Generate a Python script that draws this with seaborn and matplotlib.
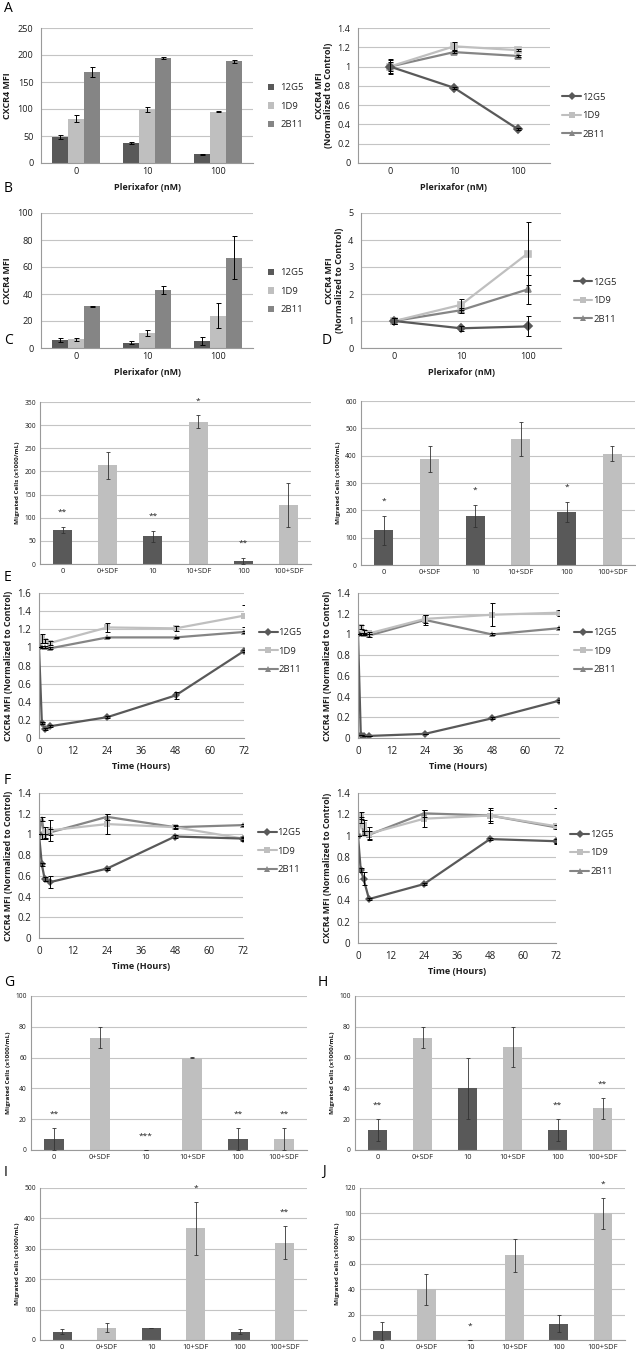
import numpy as np
import pandas as pd
import matplotlib
matplotlib.use('Agg')
import matplotlib.pyplot as plt
import seaborn as sns
from matplotlib.lines import Line2D
from matplotlib.patches import Patch

sns.set_theme(style='white')
plt.rcParams['font.family'] = ['Open Sans', 'DejaVu Sans']

# ---------------- data ----------------
ANTIBODIES = ['12G5', '1D9', '2B11']
DOSES = ['0', '10', '100']
HOURS = [0, 1, 2, 4, 24, 48, 72]
MIG_CATS = ['0', '0+SDF', '10', '10+SDF', '100', '100+SDF']

# Panel A
a_mfi = {'12G5': [48, 37, 16], '1D9': [82, 99, 95], '2B11': [168, 194, 188]}
a_mfi_err = {'12G5': [4, 1, 1], '1D9': [6, 4, 1], '2B11': [9, 1.5, 2]}
a_norm = {'12G5': [1.0, 0.78, 0.35], '1D9': [1.0, 1.21, 1.17], '2B11': [1.0, 1.15, 1.11]}
a_norm_err = {'12G5': [0.08, 0.01, 0.01], '1D9': [0.07, 0.04, 0.01], '2B11': [0.05, 0.01, 0.01]}

# Panel B
b_mfi = {'12G5': [6, 4, 5], '1D9': [6.5, 11, 24], '2B11': [31, 43, 67]}
b_mfi_err = {'12G5': [1.5, 1, 3], '1D9': [1, 2, 9], '2B11': [0.3, 3, 16]}
b_norm = {'12G5': [1.0, 0.73, 0.80], '1D9': [1.0, 1.60, 3.50], '2B11': [1.0, 1.40, 2.17]}
b_norm_err = {'12G5': [0.12, 0.1, 0.37], '1D9': [0.1, 0.2, 1.17], '2B11': [0.1, 0.1, 0.53]}

# Panel C / D (migration)
c_mig = [73, 213, 60, 307, 6, 127]
c_err = [7, 30, 12, 14, 7, 48]
c_stars = ['**', '', '**', '*', '**', '']
d_mig = [127, 387, 180, 460, 193, 407]
d_err = [52, 48, 40, 62, 37, 27]
d_stars = ['*', '', '*', '', '*', '']

# Panel E (time course)
e1 = {'12G5': [1.0, 0.17, 0.10, 0.13, 0.23, 0.47, 0.96],
      '1D9': [1.0, 1.10, 1.07, 1.05, 1.22, 1.21, 1.35],
      '2B11': [1.0, 1.0, 1.0, 0.99, 1.11, 1.11, 1.17]}
e1_err = {'12G5': [0, 0.01, 0.01, 0.01, 0.01, 0.04, 0.01],
          '1D9': [0, 0.05, 0.02, 0.02, 0.05, 0.03, 0.12],
          '2B11': [0, 0.01, 0.01, 0.01, 0.01, 0.01, 0.01]}
e2 = {'12G5': [1.0, 0.03, 0.02, 0.02, 0.04, 0.19, 0.36],
      '1D9': [1.0, 1.07, 1.02, 1.01, 1.15, 1.19, 1.21],
      '2B11': [1.0, 1.0, 1.0, 0.99, 1.14, 1.0, 1.06]}
e2_err = {'12G5': [0, 0, 0, 0, 0, 0.01, 0.01],
          '1D9': [0, 0.02, 0.02, 0.01, 0.04, 0.11, 0.03],
          '2B11': [0, 0.01, 0.01, 0.01, 0.05, 0.01, 0.01]}

# Panel F (time course)
f1 = {'12G5': [1.0, 0.71, 0.57, 0.54, 0.67, 0.98, 0.96],
      '1D9': [1.0, 0.98, 1.02, 1.04, 1.10, 1.07, 0.96],
      '2B11': [1.0, 1.15, 0.98, 1.02, 1.17, 1.07, 1.09]}
f1_err = {'12G5': [0, 0.01, 0.02, 0.06, 0.01, 0.01, 0.01],
          '1D9': [0, 0.02, 0.05, 0.1, 0.1, 0.02, 0.02],
          '2B11': [0, 0.02, 0.02, 0.03, 0.03, 0.01, 0.01]}
f2 = {'12G5': [1.0, 0.68, 0.60, 0.41, 0.55, 0.97, 0.95],
      '1D9': [1.0, 1.19, 1.10, 1.02, 1.16, 1.19, 1.09],
      '2B11': [1.0, 1.15, 1.03, 1.01, 1.21, 1.19, 1.08]}
f2_err = {'12G5': [0, 0.02, 0.06, 0.01, 0.01, 0.01, 0.02],
          '1D9': [0, 0.03, 0.05, 0.06, 0.08, 0.07, 0.17],
          '2B11': [0, 0.03, 0.02, 0.04, 0.03, 0.05, 0.02]}

# Panels G-J (migration)
g_mig = [7, 73, 0, 60, 7, 7]
g_err = [7, 7, 0, 0.3, 7, 7]
g_stars = ['**', '', '***', '', '**', '**']
h_mig = [13, 73, 40, 67, 13, 27]
h_err = [7, 7, 20, 13, 7, 7]
h_stars = ['**', '', '', '', '**', '**']
i_mig = [27, 40, 40, 367, 27, 320]
i_err = [8, 15, 1, 88, 8, 55]
i_stars = ['', '', '', '*', '', '**']
j_mig = [7, 40, 0, 67, 13, 100]
j_err = [7, 12, 0, 13, 7, 12]
j_stars = ['', '', '*', '', '', '*']

# ---------------- style ----------------
COL = {'12G5': '#595959', '1D9': '#bfbfbf', '2B11': '#858585'}
MARK = {'12G5': 'D', '1D9': 's', '2B11': '^'}
MIG_COLORS = ['#595959', '#bfbfbf'] * 3
GRID = '#c4c4c4'
AXC = '#9a9a9a'
TXT = '#1e1e1e'

W, H = 636, 1369
fig = plt.figure(figsize=(W / 100, H / 100), dpi=100)
fig.patch.set_facecolor('white')


def add_ax(x0, y0, x1, y1):
    return fig.add_axes([x0 / W, 1 - y1 / H, (x1 - x0) / W, (y1 - y0) / H])


def fmt_num(v):
    return f'{v:g}'


def style_ax(ax, ymax, step, fs=6.6):
    ax.set_ylim(0, ymax)
    ticks = np.arange(0, ymax + step / 2, step)
    ax.set_yticks(ticks)
    ax.set_yticklabels([fmt_num(round(t, 3)) for t in ticks])
    ax.yaxis.grid(True, color=GRID, lw=0.8)
    ax.xaxis.grid(False)
    ax.set_axisbelow(True)
    for s in ['top', 'right']:
        ax.spines[s].set_visible(False)
    for s in ['left', 'bottom']:
        ax.spines[s].set_color(AXC)
        ax.spines[s].set_linewidth(0.8)
    ax.tick_params(axis='both', labelsize=fs, colors=TXT, length=0, pad=3)
    ax.tick_params(axis='y', which='major', length=2.5, color=AXC, width=0.8)


def cat_boundaries(ax, n):
    ax.set_xlim(-0.5, n - 0.5)
    ax.set_xticks(np.arange(-0.5, n, 1.0), minor=True)
    ax.tick_params(axis='x', which='minor', length=3, color=AXC, width=0.8)
    ax.tick_params(axis='x', which='major', length=0)


def grouped_bars(ax, vals, errs, ymax, step):
    df = pd.DataFrame([(d, ab, vals[ab][i]) for ab in ANTIBODIES for i, d in enumerate(DOSES)],
                      columns=['dose', 'ab', 'v'])
    sns.barplot(data=df, x='dose', y='v', hue='ab', order=DOSES, hue_order=ANTIBODIES,
                palette=COL, errorbar=None, width=0.68, saturation=1, linewidth=0,
                edgecolor='none', legend=False, ax=ax)
    for cont, ab in zip(ax.containers, ANTIBODIES):
        for bar, v, e in zip(cont, vals[ab], errs[ab]):
            cx = bar.get_x() + bar.get_width() / 2
            ax.errorbar(cx, v, yerr=e, color='black', lw=0.7, capsize=1.8, capthick=0.7)
    style_ax(ax, ymax, step)
    cat_boundaries(ax, 3)
    ax.set_xlabel('Plerixafor (nM)', fontsize=6.5, fontweight='bold', color=TXT, labelpad=5)
    ax.set_ylabel('CXCR4 MFI', fontsize=6.5, fontweight='bold', color=TXT, labelpad=4)
    handles = [Patch(facecolor=COL[a], edgecolor='none') for a in ANTIBODIES]
    ax.legend(handles, ANTIBODIES, loc='center left', bbox_to_anchor=(1.03, 0.42), frameon=False,
              fontsize=6.8, handlelength=0.7, handleheight=0.7, labelspacing=1.0, handletextpad=0.6)


def line_legend(ax, anchor):
    handles = [Line2D([], [], color=COL[a], marker=MARK[a], lw=1.5, ms=4, mew=0) for a in ANTIBODIES]
    ax.legend(handles, ANTIBODIES, loc='center left', bbox_to_anchor=anchor, frameon=False,
              fontsize=6.8, handlelength=2.0, labelspacing=1.0, handletextpad=0.1)


def dose_lines(ax, vals, errs, ymax, step):
    df = pd.DataFrame([(d, ab, vals[ab][i]) for ab in ANTIBODIES for i, d in enumerate(DOSES)],
                      columns=['dose', 'ab', 'v'])
    sns.pointplot(data=df, x='dose', y='v', hue='ab', order=DOSES, hue_order=ANTIBODIES[::-1],
                  palette=COL, markers=[MARK[a] for a in ANTIBODIES[::-1]], linestyles='-',
                  errorbar=None, legend=False, ax=ax, markersize=4.5, linewidth=1.6)
    for ab in ANTIBODIES:
        ax.errorbar(np.arange(len(DOSES)), vals[ab], yerr=errs[ab], fmt='none', ecolor='black',
                    lw=0.7, capsize=1.8, capthick=0.7, zorder=5)
    style_ax(ax, ymax, step)
    cat_boundaries(ax, 3)
    ax.set_xlabel('Plerixafor (nM)', fontsize=6.5, fontweight='bold', color=TXT, labelpad=5)
    ax.set_ylabel('CXCR4 MFI\n(Normalized to Control)', fontsize=6.5, fontweight='bold',
                  color=TXT, labelpad=3, linespacing=1.1)
    line_legend(ax, (1.02, 0.35))


def time_lines(ax, vals, errs, ymax, step):
    df = pd.DataFrame([(h, ab, vals[ab][i]) for ab in ANTIBODIES for i, h in enumerate(HOURS)],
                      columns=['h', 'ab', 'v'])
    sns.lineplot(data=df, x='h', y='v', hue='ab', style='ab', hue_order=ANTIBODIES[::-1],
                 style_order=ANTIBODIES[::-1], palette=COL, markers=MARK, dashes=False,
                 markersize=4.5, markeredgewidth=0, linewidth=1.6, legend=False, ax=ax)
    for ab in ANTIBODIES:
        ax.errorbar(HOURS, vals[ab], yerr=errs[ab], fmt='none', ecolor='black',
                    lw=0.7, capsize=1.8, capthick=0.7, zorder=5)
    style_ax(ax, ymax, step, fs=7.0)
    ax.set_xlim(0, 72)
    ax.set_xticks(np.arange(0, 73, 12))
    ax.tick_params(axis='x', which='major', length=2.5, color=AXC, width=0.8)
    ax.set_xlabel('Time (Hours)', fontsize=6.6, fontweight='bold', color=TXT, labelpad=4)
    ax.set_ylabel('CXCR4 MFI (Normalized to Control)', fontsize=6.3, fontweight='bold',
                  color=TXT, labelpad=3)
    line_legend(ax, (1.03, 0.60))


def mig_bars(ax, vals, errs, stars, ymax, step, fs=4.8):
    df = pd.DataFrame({'cat': MIG_CATS, 'v': vals})
    sns.barplot(data=df, x='cat', y='v', hue='cat', order=MIG_CATS, hue_order=MIG_CATS,
                palette=MIG_COLORS, errorbar=None, width=0.42, saturation=1, linewidth=0,
                edgecolor='none', legend=False, ax=ax)
    ax.errorbar(np.arange(len(MIG_CATS)), vals, yerr=errs, fmt='none', ecolor='#333333',
                lw=0.6, capsize=1.3, capthick=0.6, zorder=5)
    for i, (v, e, s) in enumerate(zip(vals, errs, stars)):
        if s:
            ax.text(i, v + e + ymax * 0.09, s, ha='center', va='center', fontsize=6,
                    color=TXT)
    style_ax(ax, ymax, step, fs=fs)
    ax.tick_params(axis='y', length=0)
    cat_boundaries(ax, 6)
    ax.tick_params(axis='x', labelsize=fs + 0.6)
    ax.set_xlabel('')
    ax.set_ylabel('Migrated Cells (x1000/mL)', fontsize=4.6, fontweight='bold', color=TXT,
                  labelpad=3)


def letter(x, y, s):
    fig.text(x / W, 1 - y / H, s, fontsize=10, color='black', va='center', ha='left')


# ---------------- panels ----------------
letter(4, 8, 'A')
grouped_bars(add_ax(41, 28, 253, 163), a_mfi, a_mfi_err, 250, 50)
dose_lines(add_ax(358, 28, 550, 163), a_norm, a_norm_err, 1.4, 0.2)

letter(4, 188, 'B')
grouped_bars(add_ax(41, 213, 253, 348), b_mfi, b_mfi_err, 100, 20)
dose_lines(add_ax(361, 213, 561, 348), b_norm, b_norm_err, 5, 1)

letter(4, 340, 'C')
mig_bars(add_ax(40, 402, 311, 564), c_mig, c_err, c_stars, 350, 50)
letter(322, 340, 'D')
mig_bars(add_ax(361, 401, 635, 565), d_mig, d_err, d_stars, 600, 100)

letter(4, 578, 'E')
time_lines(add_ax(39, 593, 244, 738), e1, e1_err, 1.6, 0.2)
time_lines(add_ax(358, 593, 559, 738), e2, e2_err, 1.4, 0.2)

letter(4, 781, 'F')
time_lines(add_ax(39, 793, 243, 938), f1, f1_err, 1.4, 0.2)
time_lines(add_ax(358, 793, 556, 943), f2, f2_err, 1.4, 0.2)

letter(4, 983, 'G')
mig_bars(add_ax(31, 996, 307, 1150), g_mig, g_err, g_stars, 100, 20)
letter(318, 983, 'H')
mig_bars(add_ax(355, 996, 625, 1150), h_mig, h_err, h_stars, 100, 20)

letter(4, 1172, 'I')
mig_bars(add_ax(40, 1188, 307, 1340), i_mig, i_err, i_stars, 500, 100)
letter(322, 1172, 'J')
mig_bars(add_ax(360, 1188, 625, 1340), j_mig, j_err, j_stars, 120, 20)

fig.savefig('out.png', dpi=100, facecolor='white')
